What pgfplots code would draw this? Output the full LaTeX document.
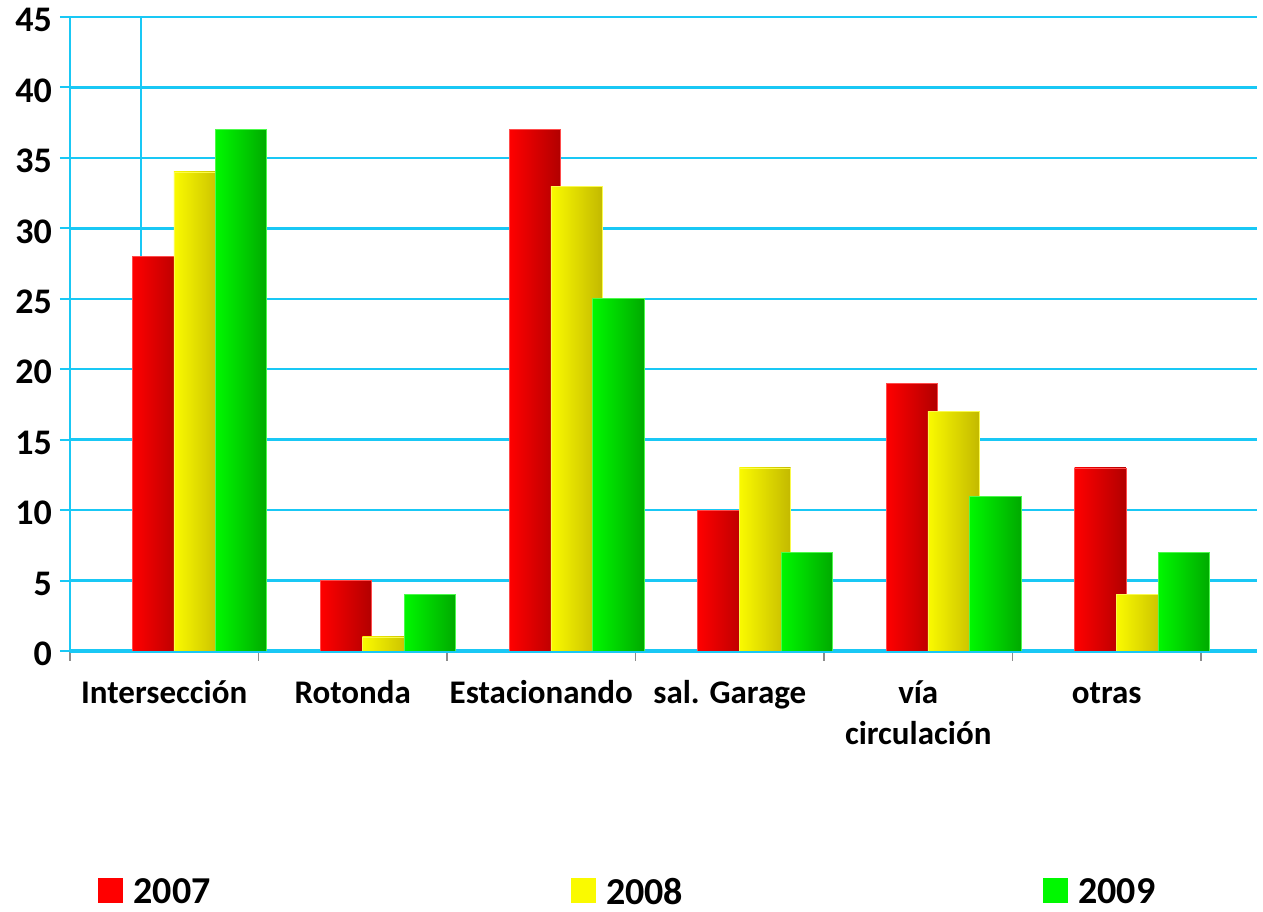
\documentclass[border=0pt]{standalone}
\usepackage{pgfplots}
\usepackage{pgfplotstable}
\pgfplotsset{compat=1.18}
\usepackage{fontspec}
\setmainfont{Carlito}
\definecolor{gridc}{RGB}{25,200,245}
\definecolor{tickgray}{RGB}{140,140,140}
\definecolor{redL}{RGB}{255,0,0}
\definecolor{redR}{RGB}{178,0,0}
\definecolor{yelL}{RGB}{250,250,0}
\definecolor{yelR}{RGB}{195,185,0}
\definecolor{grnL}{RGB}{0,248,0}
\definecolor{grnR}{RGB}{0,170,0}

% g = category index, v = value
\pgfplotstableread{
g v
0 28
1 5
2 37
3 10
4 19
5 13
}\tabA
\pgfplotstableread{
g v
0 34
1 1
2 33
3 13
4 17
5 4
}\tabB
\pgfplotstableread{
g v
0 37
1 4
2 25
3 7
4 11
5 7
}\tabC

\pgfplotsset{
  mybar/.style n args={3}{ybar, bar width=0.272, bar shift=0pt, forget plot,
    draw=#1!70!white, line width=0.6pt, left color=#1, right color=#2,
    restrict x to domain=#3:#3.99},
}

\begin{document}
\begin{tikzpicture}
\begin{axis}[
  name=ax,
  scale only axis, width=1187pt, height=634pt,
  xmin=0, xmax=6.297, ymin=0, ymax=45,
  axis lines=left,
  axis line style={-, gridc},
  x axis line style={line width=3.5pt},
  y axis line style={line width=2.5pt},
  ytick={0,5,...,45},
  ymajorgrids,
  major grid style={gridc, line width=2.5pt},
  tick align=outside,
  major tick length=10pt,
  y tick style={gridc, line width=2pt},
  x tick style={tickgray, line width=1.2pt},
  xtick={0,...,6},
  xticklabels={Intersección,Rotonda,Estacionando,sal. Garage,
    {\begin{tabular}[t]{@{}c@{}}vía\\circulación\end{tabular}},otras,{}},
  x tick label style={font=\fontsize{33}{41}\selectfont\bfseries,
    anchor=base, xshift=94.25pt, yshift=-43pt},
  y tick label style={font=\fontsize{36}{40}\selectfont\bfseries, inner sep=0pt,
    xshift=-8pt, yshift=-3pt},
  /pgf/number format/assume math mode=true,
  legend columns=3,
  legend style={draw=none, fill=none, at={(axis description cs:0,0)}, anchor=west,
    xshift=28pt, yshift=-241pt, font=\fontsize{38}{40}\selectfont\bfseries,
    inner sep=0pt, nodes={inner sep=0pt},
    /tikz/every odd column/.append style={column sep=11pt},
    /tikz/every even column/.append style={column sep=360pt}},
]
\addplot[gridc, line width=2.5pt, forget plot] coordinates {(0.377,0) (0.377,45)};

\pgfplotsinvokeforeach{0,...,5}{
  \addplot[mybar={redL}{redR}{#1}] table[x expr=\thisrow{g}+0.465, y=v] {\tabA};
  \addplot[mybar={yelL}{yelR}{#1}] table[x expr=\thisrow{g}+0.687, y=v] {\tabB};
  \addplot[mybar={grnL}{grnR}{#1}] table[x expr=\thisrow{g}+0.908, y=v] {\tabC};
}

\addlegendimage{legend image code/.code={\fill[redL] (0pt,-10pt) rectangle (24pt,14pt);}}
\addlegendentry{2007}
\addlegendimage{legend image code/.code={\fill[yelL] (0pt,-10pt) rectangle (24pt,14pt);}}
\addlegendentry{2008}
\addlegendimage{legend image code/.code={\fill[grnL] (0pt,-10pt) rectangle (24pt,14pt);}}
\addlegendentry{2009}
\end{axis}
\pgfresetboundingbox
\path ([xshift=-70pt,yshift=-261pt]ax.south west) rectangle ([xshift=6pt,yshift=17pt]ax.north east);
\end{tikzpicture}
\end{document}
